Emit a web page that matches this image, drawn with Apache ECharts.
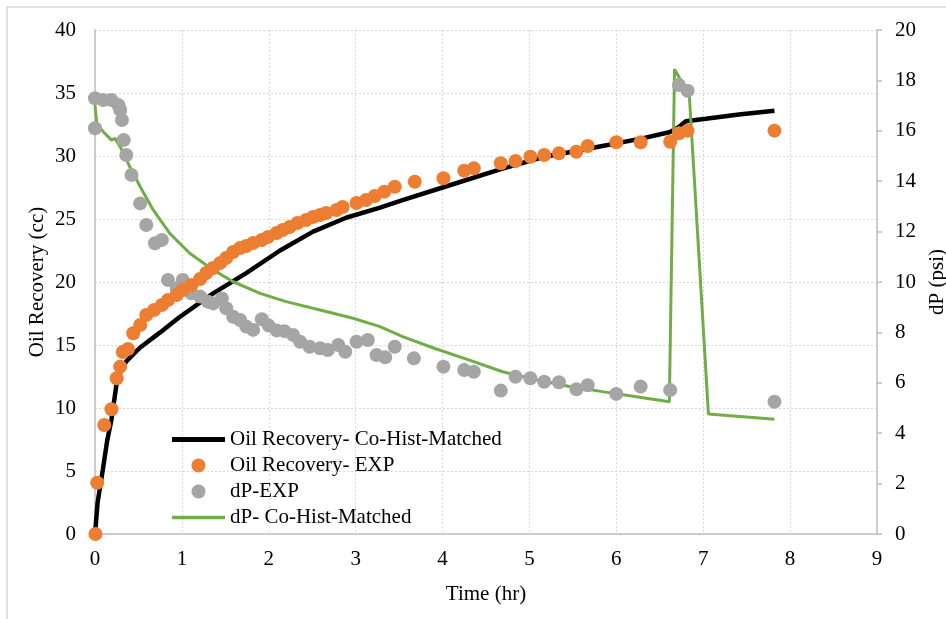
<!DOCTYPE html>
<html>
<head>
<meta charset="utf-8">
<script src="https://cdn.jsdelivr.net/npm/echarts@6/dist/echarts.min.js"></script>
<style>
  html, body { margin: 0; padding: 0; background: #fff; }
  #chart { width: 946px; height: 619px; }
</style>
</head>
<body>
<div id="chart"></div>
<script>
// Time (hr) and oil recovery (cc) for the history-matched curve
const matchedOilTime = [0, 0.03, 0.09, 0.14, 0.19, 0.25, 0.30, 0.36, 0.52, 0.75, 0.97, 1.36, 1.74, 2.13, 2.51, 2.89, 3.28, 3.54, 4.00, 4.69, 5.15, 5.84, 6.30, 6.62, 6.72, 6.80, 7.03, 7.41, 7.82];
const matchedOil     = [0, 2.5, 5.1, 7.4, 9.1, 12.0, 13.0, 13.7, 14.8, 16.0, 17.2, 19.1, 20.7, 22.5, 24.0, 25.1, 25.9, 26.5, 27.5, 29.0, 29.9, 30.8, 31.4, 31.9, 32.3, 32.75, 32.95, 33.3, 33.6];

// Experimental oil recovery (cc)
const expOilTime = [0.005, 0.026, 0.107, 0.19, 0.25, 0.29, 0.32, 0.38, 0.44, 0.52, 0.59, 0.68, 0.77, 0.84, 0.94, 1.01, 1.11, 1.21, 1.28, 1.36, 1.44, 1.51, 1.59, 1.67, 1.74, 1.82, 1.92, 1.99, 2.09, 2.16, 2.24, 2.33, 2.43, 2.51, 2.59, 2.66, 2.78, 2.85, 3.01, 3.12, 3.22, 3.33, 3.45, 3.68, 4.01, 4.25, 4.36, 4.67, 4.84, 5.01, 5.17, 5.34, 5.54, 5.67, 6.00, 6.28, 6.62, 6.72, 6.82, 7.82];
const expOil     = [0, 4.07, 8.65, 9.9, 12.36, 13.28, 14.44, 14.68, 15.93, 16.59, 17.38, 17.78, 18.17, 18.57, 18.97, 19.37, 19.76, 20.24, 20.71, 21.11, 21.51, 21.90, 22.38, 22.70, 22.86, 23.10, 23.33, 23.57, 23.89, 24.13, 24.37, 24.68, 24.92, 25.16, 25.32, 25.48, 25.71, 25.95, 26.27, 26.51, 26.83, 27.17, 27.56, 27.96, 28.23, 28.83, 29.02, 29.42, 29.60, 29.94, 30.08, 30.21, 30.34, 30.79, 31.09, 31.09, 31.13, 31.80, 32.01, 32.01];

// Experimental pressure drop (psi)
const expDpTime = [0, 0, 0.095, 0.19, 0.27, 0.29, 0.31, 0.33, 0.36, 0.42, 0.52, 0.59, 0.69, 0.77, 0.84, 0.94, 1.01, 1.11, 1.21, 1.30, 1.36, 1.46, 1.51, 1.59, 1.67, 1.74, 1.82, 1.92, 2.00, 2.09, 2.18, 2.28, 2.36, 2.47, 2.59, 2.68, 2.80, 2.88, 3.01, 3.14, 3.24, 3.34, 3.45, 3.67, 4.01, 4.25, 4.36, 4.67, 4.84, 5.01, 5.17, 5.34, 5.54, 5.67, 6.00, 6.28, 6.62, 6.72, 6.82, 7.82];
const expDp     = [17.29, 16.1, 17.22, 17.22, 17.02, 16.83, 16.43, 15.63, 15.04, 14.25, 13.12, 12.26, 11.54, 11.67, 10.08, 9.75, 10.08, 9.55, 9.42, 9.22, 9.15, 9.35, 8.96, 8.62, 8.49, 8.23, 8.10, 8.52, 8.27, 8.08, 8.05, 7.90, 7.63, 7.43, 7.37, 7.30, 7.50, 7.23, 7.63, 7.70, 7.10, 7.01, 7.43, 6.97, 6.64, 6.51, 6.44, 5.69, 6.24, 6.18, 6.04, 6.02, 5.74, 5.90, 5.56, 5.85, 5.71, 17.82, 17.59, 5.25];

// History-matched pressure drop (psi)
const matchedDpTime = [0, 0.02, 0.095, 0.19, 0.23, 0.29, 0.40, 0.52, 0.67, 0.86, 1.09, 1.36, 1.59, 1.90, 2.20, 2.59, 2.97, 3.28, 3.54, 3.92, 4.31, 4.69, 5.00, 5.46, 5.84, 6.23, 6.61, 6.63, 6.67, 6.84, 7.06, 7.82];
const matchedDp     = [17.02, 16.3, 15.96, 15.63, 15.7, 15.37, 14.58, 13.78, 12.86, 11.93, 11.14, 10.48, 10.01, 9.55, 9.22, 8.89, 8.56, 8.23, 7.83, 7.35, 6.90, 6.44, 6.18, 5.85, 5.65, 5.45, 5.25, 5.19, 18.44, 17.4, 4.76, 4.55];

// Axis ranges and tick steps
const timeAxis = { min: 0, max: 9, step: 1 };
const oilAxis  = { min: 0, max: 40, step: 5 };
const dpAxis   = { min: 0, max: 20, step: 2 };

const seriesNames = ['Oil Recovery- Co-Hist-Matched', 'Oil Recovery- EXP', 'dP-EXP', 'dP- Co-Hist-Matched'];

const pairs = (xs, ys) => xs.map((x, i) => [x, ys[i]]);

const FONT = '"Liberation Serif", "Times New Roman", serif';
const TEXT = { fontFamily: FONT, fontSize: 21, color: '#000' };

// Flat bar icons stand in for the line series in the legend
const barIcon = (h) => 'path://M0,0 H53 V' + h + ' H0 Z';

const chart = echarts.init(document.getElementById('chart'), null, { renderer: 'canvas' });

chart.setOption({
  backgroundColor: '#fff',
  animation: false,
  textStyle: { fontFamily: FONT },
  graphic: [
    { type: 'line', shape: { x1: 7, y1: 7, x2: 946, y2: 7 }, style: { stroke: '#C8C8C8', lineWidth: 1.2 } },
    { type: 'line', shape: { x1: 7, y1: 7, x2: 7, y2: 619 }, style: { stroke: '#C8C8C8', lineWidth: 1.2 } }
  ],
  grid: { left: 95, right: 69, top: 30, bottom: 85, containLabel: false, outerBoundsMode: 'none' },
  legend: {
    orient: 'vertical',
    left: 167,
    top: 424,
    itemWidth: 53,
    itemHeight: 14,
    itemGap: 5,
    textStyle: TEXT,
    data: [
      { name: seriesNames[0], icon: barIcon(5) },
      { name: seriesNames[1], icon: 'circle' },
      { name: seriesNames[2], icon: 'circle' },
      { name: seriesNames[3], icon: barIcon(3.5) }
    ]
  },
  xAxis: {
    type: 'value',
    min: timeAxis.min, max: timeAxis.max, interval: timeAxis.step,
    name: 'Time (hr)',
    nameLocation: 'middle',
    nameGap: 50,
    nameTextStyle: TEXT,
    axisLine: { show: true, onZero: false, lineStyle: { color: '#BFBFBF', width: 1.5 } },
    axisTick: { show: false },
    axisLabel: Object.assign({}, TEXT, { margin: 15 }),
    splitLine: { show: true, lineStyle: { color: '#D9D9D9', type: [2, 2], width: 1 } }
  },
  yAxis: [
    {
      type: 'value',
      position: 'left',
      min: oilAxis.min, max: oilAxis.max, interval: oilAxis.step,
      name: 'Oil Recovery (cc)',
      nameLocation: 'middle',
      nameRotate: 90,
      nameGap: 47,
      nameMoveOverlap: false,
      nameTextStyle: TEXT,
      axisLine: { show: true, lineStyle: { color: '#BFBFBF', width: 1.5 } },
      axisTick: { show: false },
      axisLabel: Object.assign({}, TEXT, { margin: 19 }),
      splitLine: { show: true, lineStyle: { color: '#D9D9D9', type: [2, 2], width: 1 } }
    },
    {
      type: 'value',
      position: 'right',
      min: dpAxis.min, max: dpAxis.max, interval: dpAxis.step,
      name: 'dP (psi)',
      nameLocation: 'middle',
      nameRotate: 90,
      nameGap: 43,
      nameTextStyle: TEXT,
      axisLine: { show: true, lineStyle: { color: '#BFBFBF', width: 1.5 } },
      axisTick: { show: true, inside: false, length: 5, lineStyle: { color: '#BFBFBF', width: 1.5 } },
      axisLabel: Object.assign({}, TEXT, { margin: 18 }),
      splitLine: { show: false }
    }
  ],
  series: [
    {
      name: seriesNames[0],
      type: 'line',
      yAxisIndex: 0,
      data: pairs(matchedOilTime, matchedOil),
      symbol: 'none',
      smooth: false,
      z: 2,
      lineStyle: { color: '#000', width: 4.5 },
      itemStyle: { color: '#000' }
    },
    {
      name: seriesNames[1],
      type: 'scatter',
      yAxisIndex: 0,
      data: pairs(expOilTime, expOil),
      symbol: 'circle',
      symbolSize: 14,
      z: 4,
      itemStyle: { color: '#ED7D31', opacity: 1 }
    },
    {
      name: seriesNames[2],
      type: 'scatter',
      yAxisIndex: 1,
      data: pairs(expDpTime, expDp),
      symbol: 'circle',
      symbolSize: 14,
      z: 3,
      itemStyle: { color: '#A5A5A5', opacity: 1 }
    },
    {
      name: seriesNames[3],
      type: 'line',
      yAxisIndex: 1,
      data: pairs(matchedDpTime, matchedDp),
      symbol: 'none',
      smooth: false,
      z: 2,
      lineStyle: { color: '#70AD47', width: 3 },
      itemStyle: { color: '#70AD47' }
    }
  ]
});
</script>
</body>
</html>
